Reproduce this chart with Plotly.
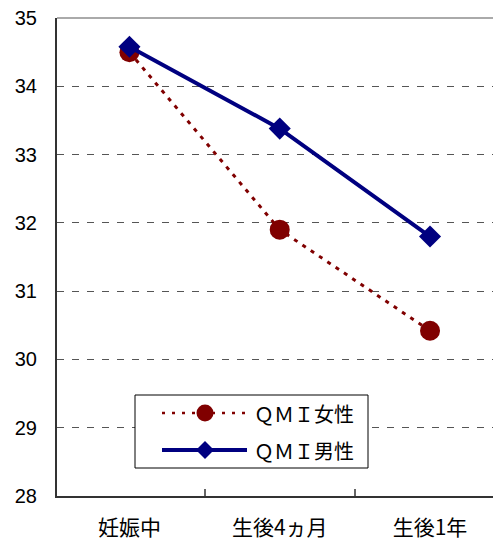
import plotly.graph_objects as go

# Data
categories = ["妊娠中", "生後4ヵ月", "生後1年"]
female_qmi = [34.5, 31.9, 30.42]
male_qmi = [34.58, 33.38, 31.8]
series_names = ["ＱＭＩ女性", "ＱＭＩ男性"]
y_ticks = [28, 29, 30, 31, 32, 33, 34, 35]

RED = "#800000"
NAVY = "#000080"
CJK = "Noto Sans CJK JP"
LATIN = "Liberation Sans"

W, H = 493, 545
ML, MR, MT, MB = 57, 0, 18, 49
PW, PH = W - ML - MR, H - MT - MB

fig = go.Figure()
fig.add_trace(go.Scatter(
    x=categories, y=female_qmi, name=series_names[0], mode="lines+markers",
    line=dict(color=RED, width=3, dash="4px,6px"),
    marker=dict(symbol="circle", size=20, color=RED),
    showlegend=False,
))
fig.add_trace(go.Scatter(
    x=categories, y=male_qmi, name=series_names[1], mode="lines+markers",
    line=dict(color=NAVY, width=4),
    marker=dict(symbol="diamond", size=17, color=NAVY),
    showlegend=False,
))


def px_x(px):
    return (px - ML) / PW


def px_y(py):
    return (H - MB - py) / PH


shapes = [
    # top frame line
    dict(type="line", xref="paper", yref="paper", x0=0, x1=1, y0=1, y1=1,
         line=dict(color="#aaaaaa", width=2), layer="above"),
    # legend box
    dict(type="rect", xref="paper", yref="paper",
         x0=px_x(135), x1=px_x(368), y0=px_y(468), y1=px_y(395),
         fillcolor="white", line=dict(color="black", width=1), layer="above"),
]
annotations = []
rows = [
    (413, RED, "3px,7px", 2.5, "circle"),
    (450, NAVY, "solid", 4, "diamond"),
]
for (py, color, dash, width, sym), name in zip(rows, series_names):
    yy = px_y(py)
    shapes.append(dict(type="line", xref="paper", yref="paper",
                       x0=px_x(162), x1=px_x(247), y0=yy, y1=yy,
                       line=dict(color=color, width=width, dash=dash), layer="above"))
    if sym == "circle":
        shapes.append(dict(type="circle", xref="paper", yref="paper",
                           xsizemode="pixel", ysizemode="pixel",
                           xanchor=px_x(205), yanchor=yy,
                           x0=-8.5, x1=8.5, y0=-8.5, y1=8.5,
                           fillcolor=color, line=dict(width=0), layer="above"))
    else:
        shapes.append(dict(type="path", xref="paper", yref="paper",
                           xsizemode="pixel", ysizemode="pixel",
                           xanchor=px_x(205), yanchor=yy,
                           path="M 0 9 L 9 0 L 0 -9 L -9 0 Z",
                           fillcolor=color, line=dict(width=0), layer="above"))
    annotations.append(dict(xref="paper", yref="paper", x=px_x(252), y=yy,
                            xanchor="left", yanchor="middle", showarrow=False,
                            text=name, font=dict(family=CJK, size=20, color="black")))

fig.update_layout(
    width=W, height=H,
    margin=dict(l=ML, r=MR, t=MT, b=MB, pad=0),
    paper_bgcolor="white", plot_bgcolor="white",
    shapes=shapes, annotations=annotations,
    xaxis=dict(
        type="category", range=[-0.482, 2.419],
        showline=True, linecolor="#333333", linewidth=2,
        ticks="inside", tickson="boundaries", ticklen=7, tickwidth=1.5, tickcolor="#666666",
        showgrid=False, ticklabelstandoff=12,
        tickfont=dict(family=CJK, size=21, color="black"),
    ),
    yaxis=dict(
        range=[28, 35], tickvals=y_ticks,
        showline=True, linecolor="#333333", linewidth=2, ticks="",
        showgrid=True, gridcolor="#555555", gridwidth=1, griddash="7px,8px",
        zeroline=False, ticklabelstandoff=14,
        tickfont=dict(family=LATIN, size=20, color="black"),
    ),
)

fig.write_html("out.html")
